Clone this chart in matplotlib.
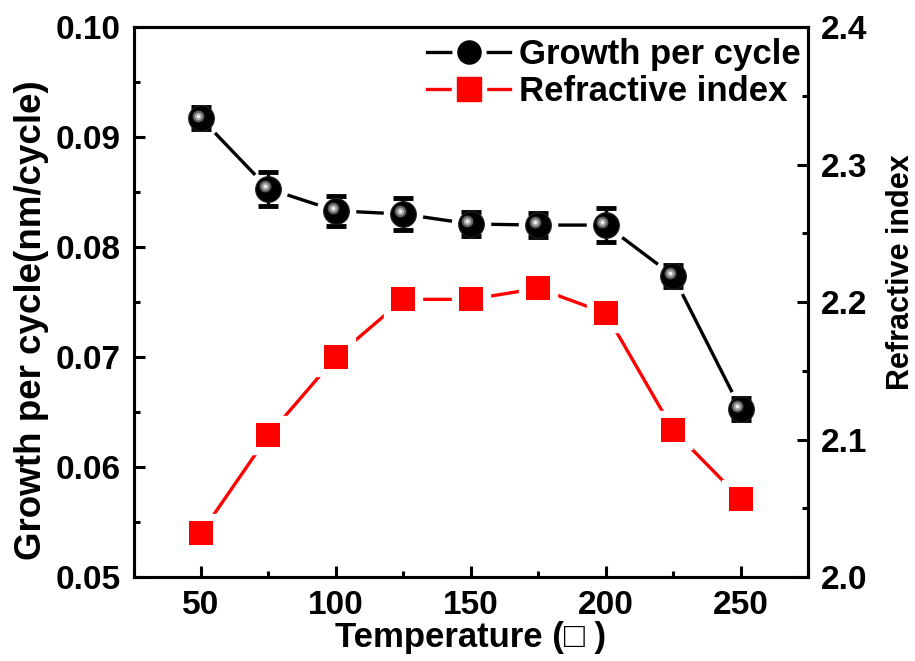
import matplotlib
matplotlib.use("Agg")
import matplotlib.pyplot as plt
from matplotlib.lines import Line2D
from matplotlib.legend_handler import HandlerTuple
from matplotlib.ticker import MultipleLocator
from matplotlib import transforms

# deposition temperature (C)
temperature = [50, 75, 100, 125, 150, 175, 200, 225, 250]
# growth per cycle (nm/cycle) and its error
gpc = [0.0917, 0.0853, 0.0833, 0.0830, 0.0821, 0.0820, 0.0820, 0.0774, 0.0653]
gpc_err = [0.0010, 0.00154, 0.00135, 0.00143, 0.0011, 0.0011, 0.00154, 0.0010, 0.0010]
# refractive index
n_index = [2.032, 2.103, 2.160, 2.202, 2.202, 2.210, 2.192, 2.107, 2.057]

plt.rcParams["font.family"] = ["Liberation Sans", "DejaVu Sans"]
plt.rcParams["font.weight"] = "bold"
plt.rcParams["font.size"] = 24

fig = plt.figure(figsize=(9.15, 6.61), dpi=100)
ax = fig.add_axes([0.146, 0.127, 0.737, 0.832])
ax2 = ax.twinx()

ms_ball = 18.5
ms_sq = 17
lw = 2.4

# growth per cycle: line, white halo to break the line, error bars, shaded balls
ax.plot(temperature, gpc, color="black", lw=lw, zorder=1)
ax.plot(temperature, gpc, ls="none", marker="o", ms=ms_ball + 9, color="white", zorder=2)
ax.errorbar(temperature, gpc, yerr=gpc_err, fmt="none", ecolor="black",
            elinewidth=lw, capsize=7, capthick=3.5, zorder=3)
ax.plot(temperature, gpc, ls="none", marker="o", ms=ms_ball, color="black",
        mec="#222222", mew=0.8, zorder=4)
hl = transforms.offset_copy(ax.transData, fig=fig, x=-2.4, y=2.0, units="points")
ax.plot(temperature, gpc, ls="none", marker="o", ms=8.5, color="#5e5e5e",
        mew=0, transform=hl, zorder=5)
ax.plot(temperature, gpc, ls="none", marker="o", ms=5.5, color="#a8a8a8",
        mew=0, transform=hl, zorder=6)
ax.plot(temperature, gpc, ls="none", marker="o", ms=2.5, color="#f0f0f0",
        mew=0, transform=hl, zorder=7)

# refractive index on the right axis
ax2.plot(temperature, n_index, color="red", lw=lw, zorder=1)
ax2.plot(temperature, n_index, ls="none", marker="s", ms=ms_sq + 10, color="white", zorder=2)
ax2.plot(temperature, n_index, ls="none", marker="s", ms=ms_sq, color="red", mew=0, zorder=3)

ax.set_xlim(25, 275)
ax.set_ylim(0.05, 0.10)
ax2.set_ylim(2.0, 2.4)
ax.xaxis.set_major_locator(MultipleLocator(50))
ax.xaxis.set_minor_locator(MultipleLocator(25))
ax.yaxis.set_major_locator(MultipleLocator(0.01))
ax.yaxis.set_minor_locator(MultipleLocator(0.005))
ax2.yaxis.set_major_locator(MultipleLocator(0.1))
ax2.yaxis.set_minor_locator(MultipleLocator(0.05))
ax.yaxis.set_major_formatter(lambda v, p: f"{v:.2f}")
ax2.yaxis.set_major_formatter(lambda v, p: f"{v:.1f}")

for a in (ax, ax2):
    for sp in a.spines.values():
        sp.set_linewidth(2.2)
    a.tick_params(which="major", direction="in", length=8, width=2.2, pad=9)
    a.tick_params(which="minor", direction="in", length=4, width=2.2)
ax.tick_params(axis="y", which="both", right=False)
ax.tick_params(axis="x", which="both", top=False)

ax.set_xlabel("Temperature (\u25a1 )", fontsize=25, fontweight="bold", labelpad=0)
ax.set_ylabel("Growth per cycle(nm/cycle)", fontsize=26.5, fontweight="bold")
ax.yaxis.set_label_coords(-0.126, 0.467)
ax2.set_ylabel("Refractive index", fontsize=22, fontweight="bold")
ax2.yaxis.set_label_coords(1.116, 0.555)

# legend entries drawn as line - gap - marker - gap - line
h_gpc = (Line2D([], [], color="black", lw=lw),
         Line2D([], [], ls="none", marker="o", ms=ms_ball * 0.9 + 7, color="white"),
         Line2D([], [], ls="none", marker="o", ms=ms_ball * 0.9, color="black"))
h_n = (Line2D([], [], color="red", lw=lw),
       Line2D([], [], ls="none", marker="s", ms=ms_sq + 7, color="white"),
       Line2D([], [], ls="none", marker="s", ms=ms_sq, color="red"))
ax.legend([h_gpc, h_n], ["Growth per cycle", "Refractive index"],
          handler_map={tuple: HandlerTuple(ndivide=1)},
          loc="upper right", bbox_to_anchor=(1.02, 1.018), frameon=False,
          handlelength=2.4, handletextpad=0.25, labelspacing=0.12,
          borderaxespad=0.2, prop={"weight": "bold", "size": 25})

fig.savefig("out.png", dpi=100)
